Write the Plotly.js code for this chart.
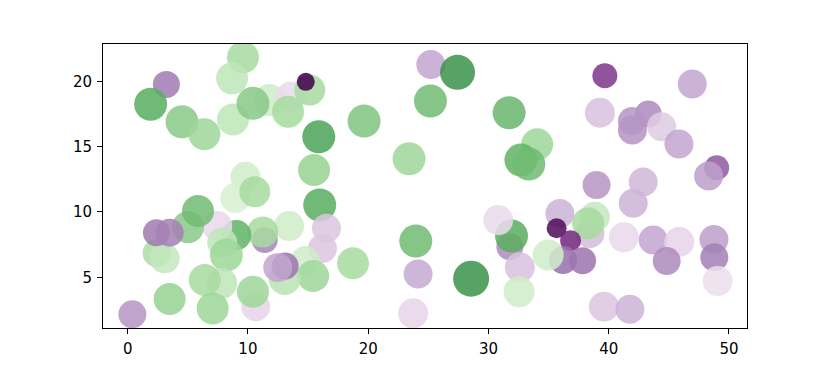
<!DOCTYPE html>
<html>
<head>
<meta charset="utf-8">
<script src="https://cdn.plot.ly/plotly-3.0.1.min.js"></script>
<style>
  html, body { margin: 0; padding: 0; background: #fff; }
  #chart { width: 830px; height: 369px; }
</style>
</head>
<body>
<div id="chart"></div>
<script>
// point data (x, y, marker size, colour value 0..1 on PRGn)
var xs = [3.22, 1.91, 9.59, 8.68, 4.52, 6.38, 8.76, 11.81, 10.42, 13.56,
  13.34, 15.14, 14.81, 15.89, 15.50, 9.79, 25.21, 27.43, 25.18, 19.66,
  31.72, 23.40, 34.05, 32.70, 33.36, 39.68, 46.95, 39.27, 43.29, 41.93,
  41.97, 44.40, 45.84, 48.98, 48.31, 38.99, 42.87, 42.04, 35.94, 38.44,
  38.85, 38.29, 35.67, 36.83, 36.21, 37.83, 34.97, 41.26, 43.70, 45.87,
  44.82, 48.75, 48.78, 49.06, 39.60, 41.76, 31.78, 31.92, 30.81, 32.61,
  32.55, 28.56, 15.97, 16.53, 16.20, 18.74, 23.96, 24.15, 23.74, 14.77,
  15.42, 13.06, 13.10, 12.48, 13.42, 11.40, 11.23, 10.65, 10.42, 9.04,
  7.45, 7.86, 8.21, 8.94, 10.57, 7.82, 6.41, 7.07, 5.02, 5.85,
  2.41, 3.08, 2.39, 3.49, 3.49, 0.39];
var ys = [19.76, 18.24, 21.83, 20.22, 16.90, 15.94, 17.08, 18.56, 18.31, 18.83,
  17.67, 19.33, 19.96, 15.75, 13.21, 12.69, 21.29, 20.68, 18.49, 16.95,
  17.59, 14.07, 15.17, 13.97, 13.66, 20.42, 19.79, 17.59, 17.49, 16.95,
  16.27, 16.52, 15.19, 13.38, 12.75, 12.06, 12.29, 10.66, 9.89, 8.36,
  9.63, 9.13, 8.75, 7.80, 6.32, 6.27, 6.70, 8.06, 7.85, 7.70,
  6.24, 7.90, 6.53, 4.71, 2.75, 2.55, 7.34, 8.16, 9.38, 5.76,
  3.89, 4.89, 10.53, 8.75, 7.21, 6.07, 7.77, 5.25, 2.24, 6.28,
  5.10, 4.87, 5.86, 5.75, 8.92, 7.85, 8.46, 2.75, 3.89, 8.23,
  8.92, 7.66, 6.70, 11.06, 11.55, 4.54, 4.79, 2.62, 8.84, 10.07,
  6.86, 6.45, 8.41, 8.41, 3.34, 2.17];
var sizes = [27, 33, 32, 32, 33, 32, 32, 32, 33, 30,
  32, 31, 18, 33, 32, 30, 29, 35, 33, 33,
  33, 33, 32, 33, 33, 25, 29, 30, 27, 28,
  29, 29, 29, 25, 29, 28, 29, 29, 29, 29,
  30, 32, 20, 21, 28, 27, 31, 30, 29, 30,
  28, 29, 28, 30, 30, 29, 27, 33, 30, 30,
  31, 36, 33, 29, 29, 32, 33, 29, 30, 29,
  32, 32, 27, 29, 30, 26, 31, 29, 32, 30,
  30, 30, 33, 30, 31, 31, 32, 32, 32, 32,
  28, 30, 27, 28, 32, 28];
var colorVals = [0.22, 0.80, 0.70, 0.65, 0.74, 0.71, 0.65, 0.62, 0.74, 0.42,
  0.70, 0.70, 0.00, 0.82, 0.72, 0.62, 0.30, 0.85, 0.77, 0.75,
  0.78, 0.71, 0.71, 0.79, 0.77, 0.12, 0.30, 0.36, 0.25, 0.27,
  0.27, 0.38, 0.30, 0.17, 0.29, 0.27, 0.34, 0.33, 0.33, 0.35,
  0.64, 0.70, 0.03, 0.09, 0.20, 0.21, 0.62, 0.41, 0.30, 0.40,
  0.25, 0.29, 0.23, 0.43, 0.37, 0.33, 0.25, 0.80, 0.42, 0.36,
  0.62, 0.85, 0.80, 0.37, 0.37, 0.70, 0.77, 0.31, 0.40, 0.62,
  0.71, 0.66, 0.21, 0.30, 0.62, 0.24, 0.70, 0.40, 0.71, 0.79,
  0.41, 0.65, 0.71, 0.60, 0.70, 0.65, 0.70, 0.71, 0.74, 0.77,
  0.69, 0.64, 0.22, 0.23, 0.72, 0.27];

var prgn = ["#40004b", "#762a83", "#9970ab", "#c2a5cf", "#e7d4e8", "#f7f7f7",
  "#d9f0d3", "#a6dba0", "#5aae61", "#1b7837", "#00441b"];
var colorscale = prgn.map(function (c, i) { return [i / (prgn.length - 1), c]; });

var trace = {
  type: "scatter",
  mode: "markers",
  x: xs,
  y: ys,
  hoverinfo: "x+y",
  marker: {
    size: sizes,
    color: colorVals,
    cmin: 0,
    cmax: 1,
    colorscale: colorscale,
    showscale: false,
    opacity: 0.86,
    line: { width: 0 }
  }
};

var axisStyle = {
  showgrid: false,
  zeroline: false,
  showline: true,
  mirror: true,
  linecolor: "black",
  linewidth: 1,
  ticks: "outside",
  ticklen: 5,
  tickwidth: 1,
  tickcolor: "black",
  ticklabelstandoff: 2,
  tickfont: { family: "DejaVu Sans", size: 15, color: "black" }
};

var layout = {
  width: 830,
  height: 369,
  margin: { l: 103, r: 83, t: 44, b: 41 },
  paper_bgcolor: "white",
  plot_bgcolor: "white",
  showlegend: false,
  xaxis: Object.assign({}, axisStyle, { range: [-2.05, 51.5], tickmode: "linear", tick0: 0, dtick: 10 }),
  yaxis: Object.assign({}, axisStyle, { range: [1.12, 22.85], tickmode: "linear", tick0: 0, dtick: 5 })
};

Plotly.newPlot("chart", [trace], layout, { displayModeBar: false, staticPlot: true });
</script>
</body>
</html>
